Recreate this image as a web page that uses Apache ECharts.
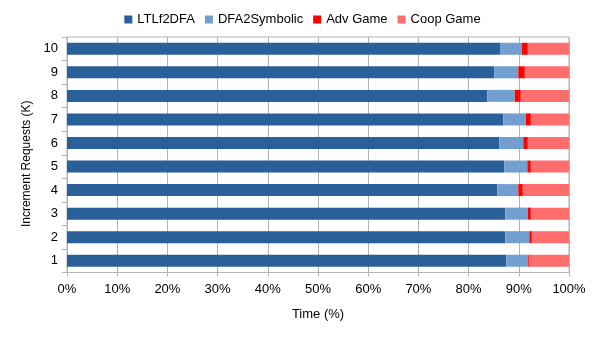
<!DOCTYPE html>
<html>
<head>
<meta charset="utf-8">
<script src="https://cdn.jsdelivr.net/npm/echarts@6/dist/echarts.min.js"></script>
<style>
  html, body { margin: 0; padding: 0; background: #fff; }
</style>
</head>
<body>
<div id="chart" style="width: 605px; height: 340px;"></div>
<script>
// share of time per phase (%), request counts 1..10 K
const requests = ['1', '2', '3', '4', '5', '6', '7', '8', '9', '10']
const ltlf2dfa = [87.5, 87.3, 87.3, 85.7, 87.1, 86.1, 86.9, 83.7, 85.1, 86.25]
const dfa2symbolic = [4.3, 4.8, 4.5, 4.2, 4.6, 4.8, 4.5, 5.5, 4.8, 4.35]
const advGame = [0.2, 0.5, 0.6, 0.9, 0.7, 0.9, 1.0, 1.2, 1.3, 1.2]
const coopGame = [8.0, 7.4, 7.6, 9.2, 7.6, 8.2, 7.6, 9.6, 8.8, 8.2]

const gridColor = '#b3b3b3'
const font = 'Liberation Sans'

let myChart = echarts.init(document.getElementById('chart'))

function bar (name, data, color) {
  return {
    name: name,
    type: 'bar',
    stack: 'total',
    barWidth: 12,
    data: data,
    itemStyle: { color: color }
  }
}

myChart.setOption({
  animation: false,
  textStyle: { fontFamily: font },
  legend: {
    top: 8,
    left: 'center',
    itemWidth: 8,
    itemHeight: 8,
    itemGap: 10,
    icon: 'rect',
    textStyle: { color: '#000', fontSize: 13, fontFamily: font },
    data: ['LTLf2DFA', 'DFA2Symbolic', 'Adv Game', 'Coop Game']
  },
  grid: {
    left: 67,
    right: 36,
    top: 37,
    bottom: 67.5,
    show: true,
    borderColor: gridColor,
    borderWidth: 1
  },
  xAxis: {
    type: 'value',
    min: 0,
    max: 100,
    interval: 10,
    name: 'Time (%)',
    nameLocation: 'middle',
    nameGap: 35,
    nameTextStyle: { color: '#000', fontSize: 13, fontFamily: font },
    axisLabel: { formatter: '{value}%', color: '#000', fontSize: 13, margin: 10, fontFamily: font },
    axisLine: { show: true, lineStyle: { color: gridColor } },
    axisTick: { show: true, length: 4, lineStyle: { color: gridColor } },
    splitLine: { show: true, lineStyle: { color: gridColor, width: 1 } }
  },
  yAxis: {
    type: 'category',
    data: requests,
    name: 'Increment Requests (K)',
    nameLocation: 'middle',
    nameGap: 31,
    // pushed a bit lower than the plot middle, like the original
    nameTextStyle: { color: '#000', fontSize: 12, fontFamily: font, padding: [0, 18, 0, 0] },
    axisLabel: { color: '#000', fontSize: 13, margin: 9, fontFamily: font },
    axisLine: { show: true, lineStyle: { color: gridColor } },
    axisTick: { show: true, length: 5, lineStyle: { color: gridColor } },
    splitLine: { show: false }
  },
  series: [
    bar('LTLf2DFA', ltlf2dfa, '#2a6099'),
    bar('DFA2Symbolic', dfa2symbolic, '#729fcf'),
    bar('Adv Game', advGame, '#ff0000'),
    bar('Coop Game', coopGame, '#ff6d6d')
  ]
})
</script>
</body>
</html>
